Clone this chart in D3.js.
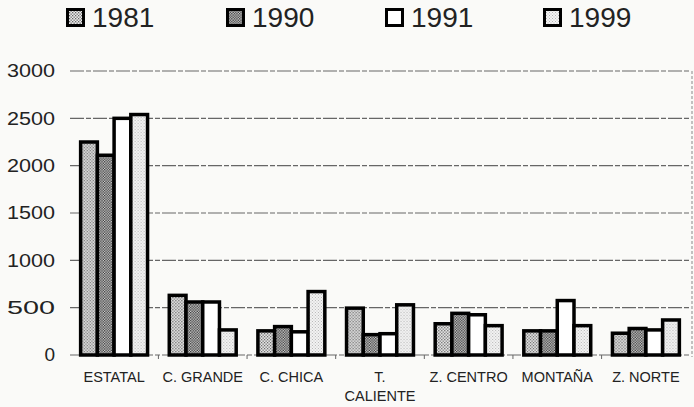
<!DOCTYPE html>
<html><head><meta charset="utf-8">
<script src="https://cdn.jsdelivr.net/npm/d3@7"></script>
<style>body{margin:0;background:#fafaf8;}svg{display:block;}</style>
</head><body>
<svg id="c" width="694" height="407"></svg>
<script>
const categories = ["ESTATAL","C. GRANDE","C. CHICA","T.\nCALIENTE","Z. CENTRO","MONTAÑA","Z. NORTE"];
const series = ["1981","1990","1991","1999"];
const v1981 = [2250, 630, 255, 495, 330, 255, 230];
const v1990 = [2110, 560, 300, 215, 440, 255, 280];
const v1991 = [2500, 560, 245, 225, 425, 575, 265];
const v1999 = [2540, 265, 670, 530, 310, 310, 370];
const yTicks = [0,500,1000,1500,2000,2500,3000];
const values = [v1981, v1990, v1991, v1999];
const FONT = "Liberation Sans, Arial, sans-serif";

const svg = d3.select("#c");
const defs = svg.append("defs");
function dots(id, bg, fg, size, r){
  const p = defs.append("pattern").attr("id",id).attr("patternUnits","userSpaceOnUse").attr("width",size).attr("height",size);
  p.append("rect").attr("width",size).attr("height",size).attr("fill",bg);
  p.append("rect").attr("x",0).attr("y",0).attr("width",r).attr("height",r).attr("fill",fg);
  p.append("rect").attr("x",size/2).attr("y",size/2).attr("width",r).attr("height",r).attr("fill",fg);
}
dots("p1981","#ececec","#666",3,1.3);
dots("p1990","#d6d6d6","#333",2.6,1.3);
dots("p1999","#f4f4f4","#b5b5b5",3,1);
const fills = {"1981":"url(#p1981)","1990":"url(#p1990)","1991":"#ffffff","1999":"url(#p1999)"};

const y = d3.scaleLinear().domain([0,3000]).range([355,71]);
const x = d3.scaleBand().domain(categories).range([70,690]).paddingInner(0.245).paddingOuter(0.12);
const xs = d3.scaleBand().domain(series).range([0,x.bandwidth()]);

// gridlines
svg.append("g").selectAll("line").data(yTicks).join("line")
  .attr("x1",70).attr("x2",690).attr("y1",d=>y(d)).attr("y2",d=>y(d))
  .attr("stroke","#666").attr("stroke-width",1.1).attr("stroke-dasharray","14,2,5,2");
// right border
svg.append("line").attr("x1",692).attr("x2",692).attr("y1",71).attr("y2",357)
  .attr("stroke","#888").attr("stroke-width",1).attr("stroke-dasharray","3,2");

// y axis labels
const yAxis = d3.axisLeft(y).tickValues(yTicks).tickFormat(d3.format("d")).tickSize(0).tickPadding(0);
const ga = svg.append("g").attr("transform","translate(55,0)").call(yAxis);
ga.select(".domain").remove();
ga.selectAll("text").attr("font-family",FONT).attr("font-size",19).attr("fill","#222")
  .attr("dy","0.3em").attr("textLength",48).attr("lengthAdjust","spacingAndGlyphs")
  .attr("text-anchor","end");
ga.selectAll("text").filter(d=>d===0).attr("textLength",null);

// category ticks
svg.append("g").selectAll("line").data(categories.slice(1)).join("line")
  .attr("x1",d=>x(d)-x.step()*x.paddingInner()/2).attr("x2",d=>x(d)-x.step()*x.paddingInner()/2)
  .attr("y1",355).attr("y2",359).attr("stroke","#666");

// bars
const groups = svg.append("g").selectAll("g").data(categories).join("g")
  .attr("transform",d=>`translate(${x(d)},0)`);
groups.selectAll("rect").data((d,i)=>series.map((s,j)=>({s, v:values[j][i]}))).join("rect")
  .attr("x",d=>xs(d.s)).attr("width",xs.bandwidth())
  .attr("y",d=>y(d.v)).attr("height",d=>355-y(d.v))
  .attr("fill",d=>fills[d.s]).attr("stroke","#000").attr("stroke-width",3.5);

// category labels
const lab = svg.append("g").selectAll("text").data(categories).join("text")
  .attr("x",d=>x(d)+x.bandwidth()/2).attr("y",382)
  .attr("text-anchor","middle").attr("font-family",FONT)
  .attr("font-size",14.5).attr("fill","#222");
lab.each(function(d){
  const t = d3.select(this);
  d.split("\n").forEach((line,k)=>{
    t.append("tspan").attr("x",x(d)+x.bandwidth()/2).attr("dy",k?19:0).text(line);
  });
});

// legend
const legX = [66, 226, 385, 543];
const lg = svg.append("g").selectAll("g").data(series).join("g")
  .attr("transform",(d,i)=>`translate(${legX[i]},0)`);
lg.append("rect").attr("x",1.5).attr("y",9.5).attr("width",16).attr("height",16)
  .attr("fill",d=>fills[d]).attr("stroke","#000").attr("stroke-width",3);
lg.append("text").attr("x",26).attr("y",27).text(d=>d)
  .attr("font-family",FONT).attr("font-size",28).attr("fill","#222");
</script>
</body></html>
